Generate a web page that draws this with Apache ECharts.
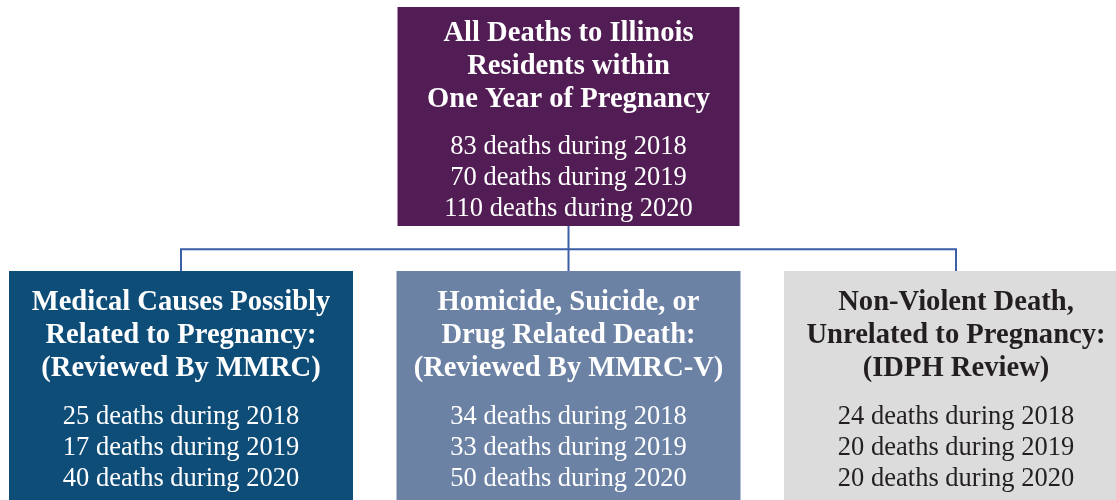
<!DOCTYPE html>
<html>
<head>
<meta charset="utf-8">
<script src="https://cdn.jsdelivr.net/npm/echarts@6/dist/echarts.min.js"></script>
<style>
  html, body { margin: 0; padding: 0; background: #ffffff; }
  #chart { width: 1116px; height: 500px; }
</style>
</head>
<body>
<div id="chart"></div>
<script>
// review flow data
const years = ['2018', '2019', '2020']
const rootTitle = ['All Deaths to Illinois', 'Residents within', 'One Year of Pregnancy']
const rootDeaths = [83, 70, 110]
const branchTitles = [
  ['Medical Causes Possibly', 'Related to Pregnancy:', '(Reviewed By MMRC)'],
  ['Homicide, Suicide, or', 'Drug Related Death:', '(Reviewed By MMRC-V)'],
  ['Non-Violent Death,', 'Unrelated to Pregnancy:', '(IDPH Review)'],
]
const medicalDeaths = [25, 17, 40]
const violentDeaths = [34, 33, 50]
const unrelatedDeaths = [24, 20, 20]
const branchDeaths = [medicalDeaths, violentDeaths, unrelatedDeaths]

const boxColors = ['#521c54', '#0f4d79', '#6c82a5', '#dcdcdd']
const textColors = ['#ffffff', '#ffffff', '#ffffff', '#231f20']
const lineColor = '#3b5ea7'
const serif = '"Liberation Serif", "DejaVu Serif", serif'

function boxText(title, deaths) {
  const head = title.map((t) => `{t|${t}}`).join('\n')
  const counts = deaths.map((n, i) => `{n|${n} deaths during ${years[i]}}`).join('\n')
  return `${head}\n{g| }\n${counts}`
}

function boxLabel(color, dy) {
  return {
    show: true,
    position: 'inside',
    offset: [0, dy],
    color,
    align: 'center',
    verticalAlign: 'middle',
    rich: {
      t: { fontFamily: serif, fontWeight: 'bold', fontSize: 28.6, lineHeight: 33, color },
      g: { fontSize: 4, lineHeight: 16, color },
      n: { fontFamily: serif, fontSize: 26.5, lineHeight: 31, color },
    },
  }
}

const treeData = {
  name: rootTitle.join(' '),
  value: rootDeaths.reduce((a, b) => a + b, 0),
  symbolSize: [342, 219],
  itemStyle: { color: boxColors[0], borderWidth: 0 },
  label: { ...boxLabel(textColors[0], 4.5), formatter: boxText(rootTitle, rootDeaths) },
  children: branchTitles.map((title, i) => ({
    name: title.join(' '),
    value: branchDeaths[i].reduce((a, b) => a + b, 0),
    symbolSize: [344, 238],
    itemStyle: { color: boxColors[i + 1], borderWidth: 0 },
    label: { ...boxLabel(textColors[i + 1], 0.5), formatter: boxText(title, branchDeaths[i]) },
  })),
}

const chart = echarts.init(document.getElementById('chart'), undefined, { renderer: 'canvas' })
chart.setOption({
  backgroundColor: '#ffffff',
  animation: false,
  series: [
    {
      type: 'tree',
      data: [treeData],
      orient: 'TB',
      layout: 'orthogonal',
      edgeShape: 'polyline',
      edgeForkPosition: '48.5%',
      left: -12.75,
      width: 1162.5,
      top: 116.5,
      height: 273.5,
      symbol: 'rect',
      roam: false,
      expandAndCollapse: false,
      initialTreeDepth: -1,
      lineStyle: { color: lineColor, width: 2, curveness: 0 },
      label: { position: 'inside' },
      leaves: { label: { position: 'inside' } },
      emphasis: { disabled: true },
    },
  ],
})
</script>
</body>
</html>
